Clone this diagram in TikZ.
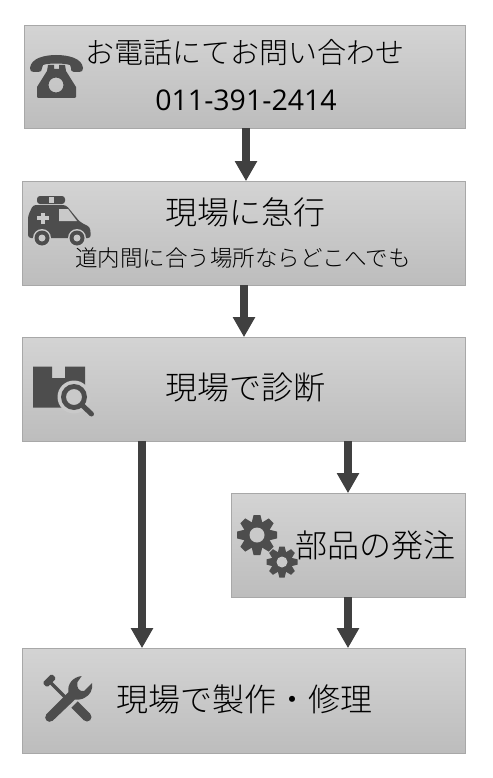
\documentclass[tikz,border=0pt]{standalone}
\usepackage{fontspec}
\setmainfont{Open Sans}
\newfontfamily\cjk{Noto Sans CJK JP Light}
\usetikzlibrary{arrows.meta}
\definecolor{ink}{HTML}{4D4D4D}
\definecolor{arrowink}{HTML}{404040}
\definecolor{edge}{HTML}{A8A8A8}
\definecolor{bgmid}{HTML}{C9C9C9}
\newcommand{\fs}[1]{\fontsize{#1}{#1}\selectfont}
\newcommand{\gearicon}[4]{% cx, cy, outer, hole
  \begin{scope}[shift={(#1,#2)},x=1pt,y=-1pt]
    \fill[ink] (0,0) circle ({#3*0.68});
    \foreach \a in {0,45,...,315}{
      \fill[ink,rotate=\a] ({-#3*0.27},{#3*0.6}) -- ({-#3*0.17},{#3}) -- ({#3*0.17},{#3}) -- ({#3*0.27},{#3*0.6}) -- cycle;
    }
    \fill[bgmid] (0,0) circle (#4);
  \end{scope}}
\tikzset{
  x=1pt,y=-1pt,
  stepbox/.style={draw=edge,line width=1.2pt,top color=black!17,bottom color=black!26,inner sep=0pt,outer sep=0pt,anchor=north west,rectangle},
  label/.style={inner sep=0pt,outer sep=0pt,anchor=center,text=black},
  flow/.style={draw=arrowink,line width=7.5pt,-{Triangle[width=21pt,length=20pt,color=arrowink]},shorten >=0pt},
  icon/.style={fill=ink,draw=none}
}
\begin{document}
\begin{tikzpicture}
\useasboundingbox (0,0) rectangle (492,778);
\node[stepbox,minimum width=441.5pt,minimum height=103pt] (call) at (24.2,25.2) {};
\node[stepbox,minimum width=443.5pt,minimum height=104pt] (rush) at (22.2,181.2) {};
\node[stepbox,minimum width=443.5pt,minimum height=104pt] (diag) at (22.2,337.2) {};
\node[stepbox,minimum width=234.5pt,minimum height=104pt] (order) at (231.2,493.2) {};
\node[stepbox,minimum width=443.5pt,minimum height=105pt] (fix) at (22.2,648.2) {};

\node[label] (t1) at (245,53) {\cjk\fs{29}お電話にてお問い合わせ};
\node[label] (t1b) at (246,100) {\fs{28.5}011-391-2414};
\node[label] (t2) at (245,212) {\cjk\fs{32}現場に急行};
\node[label] (t2b) at (243,258) {\cjk\fs{22.5}道内間に合う場所ならどこへでも};
\node[label] (t3) at (245,388) {\cjk\fs{32}現場で診断};
\node[label] (t4) at (375,545) {\cjk\fs{32}部品の発注};
\node[label] (t5) at (244.5,699) {\cjk\fs{32}現場で製作・修理};

\draw[flow] (call.south -| 246,0) -- (rush.north -| 246,0);
\draw[flow] (rush.south -| 244,0) -- (diag.north -| 244,0);
\draw[flow] (diag.south -| 142,0) -- (fix.north -| 142,0);
\draw[flow] (diag.south -| 348,0) -- (order.north -| 348,0);
\draw[flow] (order.south -| 348,0) -- (fix.north -| 348,0);

% telephone
\fill[icon] (30,68) .. controls (31,58) and (45,55) .. (56,55) .. controls (68,55) and (82,58) .. (83,68)
  .. controls (83,71) and (82,72) .. (79,72) -- (74,72) .. controls (71,72) and (71,70) .. (71,68) -- (70,65)
  .. controls (64,63) and (48,63) .. (43,65) -- (42,68) .. controls (42,71) and (41,72) .. (38,72) -- (34,72)
  .. controls (31,72) and (30,71) .. (30,68) -- cycle;
\fill[icon,even odd rule] (47,71) -- (48,65) -- (54,65) -- (54,69) -- (59,69) -- (59,65) -- (65,65) -- (66,71)
  -- (76,87) -- (76,97) -- (75,98) -- (38,98) -- (37,97) -- (37,87) -- cycle
  (56,85) circle (7.5);

% ambulance
\fill[icon,rounded corners=3pt] (37,196) rectangle (65,204);
\fill[bgmid] (49,197) rectangle (54,203);
\fill[icon,rounded corners=3pt] (28,238) -- (28,216) -- (33,205) -- (66,205) -- (80,222) -- (90,227) -- (91,238) -- cycle;
\fill[bgmid] (59,209) -- (68,209) -- (77,221) -- (59,221) -- cycle;
\fill[bgmid] (41,212.5) rectangle (44.8,224);
\fill[bgmid] (37.2,216.4) rectangle (48.6,220.1);
\foreach \wx in {42,77}{
  \fill[bgmid] (\wx,238) circle (9);
  \fill[icon] (\wx,238) circle (7.5);
  \fill[bgmid] (\wx,238) circle (3.5);
}

% box with magnifier
\fill[icon] (33,366.5) -- (52,366.5) -- (52,378) -- (65,378) -- (65,366.5) -- (85,366.5) -- (85,407.5) -- (33,407.5) -- cycle;
\fill[bgmid] (74,397) circle (16.5);
\fill[icon,even odd rule] (74,397) circle (13) (74,397) circle (8);
\draw[ink,line width=5pt,line cap=round] (83,406) -- (91.5,414);

% gears
\gearicon{257}{535}{20}{7.5}
\gearicon{282}{562}{15.5}{5.5}

% tools
\draw[ink,line width=3.2pt,line cap=round] (49,681) -- (66,698);
\fill[ink,rotate around={45:(49,681)},rounded corners=1.5pt] (43,677.8) rectangle (56,684.2);
\draw[ink,line width=9pt] (74.5,704.5) -- (87,717);
\fill[ink] (87,717) circle (4.5);
\fill[ink] (46.3,714.3) -- (68.5,692) .. controls (67,684) and (73,677) .. (81.7,676) -- (77.5,682)
  .. controls (77,685) and (77,687) .. (78.5,689) .. controls (80,691) and (82,691.5) .. (84,691) -- (92,683)
  .. controls (93,690) and (90,695) .. (85,697.5) .. controls (82,699.5) and (78,700) .. (75,699.5)
  -- (52.7,720.7) .. controls (48,724) and (43,719) .. (46.3,714.3) -- cycle;

\end{tikzpicture}
\end{document}
